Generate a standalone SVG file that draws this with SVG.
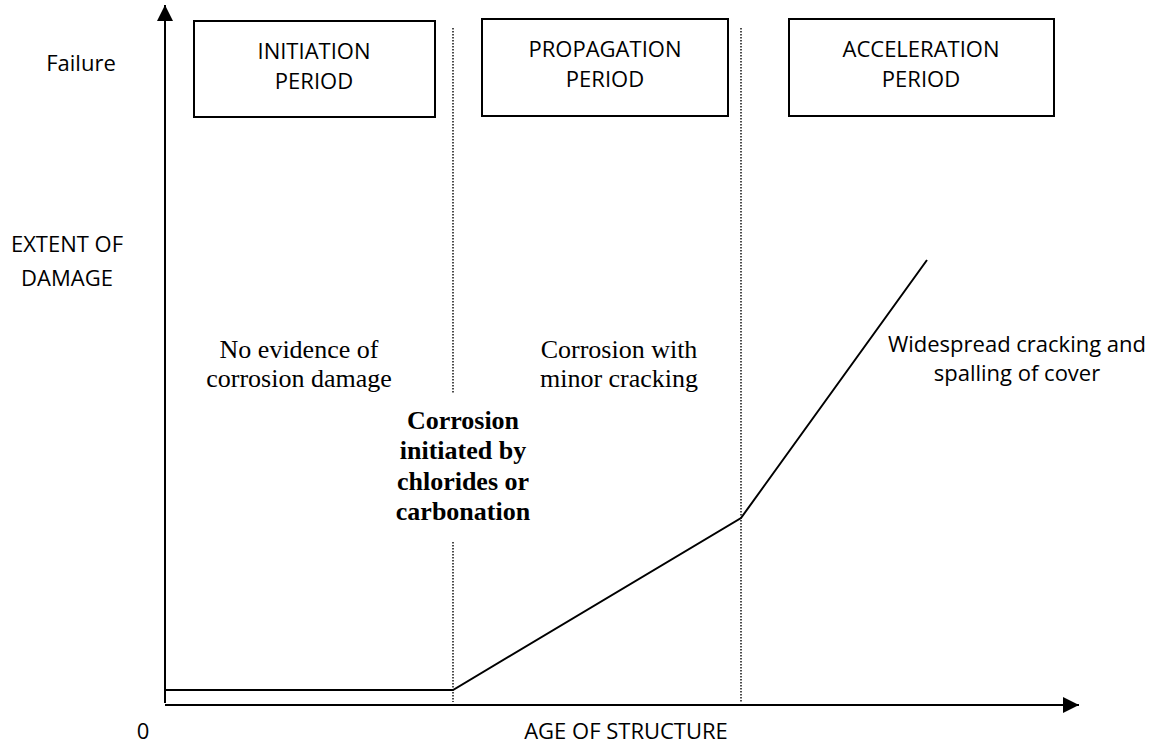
<svg xmlns="http://www.w3.org/2000/svg" width="1157" height="744" viewBox="0 0 1157 744">
<style>
.sans{font-family:"Open Sans","Liberation Sans",sans-serif;font-size:22px;fill:#000}
.serif{font-family:"Liberation Serif","Times New Roman",serif;font-size:26px;fill:#000}
.bold{font-weight:bold}
.box{fill:#fff;stroke:#000;stroke-width:2}
.axis{stroke:#000;stroke-width:2;fill:none}
.dot{stroke:#000;stroke-width:1.4;stroke-dasharray:1.4 1.6;fill:none}
.curve{stroke:#000;stroke-width:2;fill:none}
</style>
<defs>
<marker id="arr" markerWidth="9" markerHeight="9" refX="8" refY="4" orient="auto" markerUnits="strokeWidth">
<path d="M0,0 L8,4 L0,8 Z" fill="#000"/>
</marker>
</defs>
<rect width="1157" height="744" fill="#fff"/>
<g id="connectors">
<line class="axis" x1="165" y1="703" x2="165" y2="5" marker-end="url(#arr)"/>
<line class="axis" x1="165" y1="705" x2="1079" y2="705" marker-end="url(#arr)"/>
<line class="dot" x1="453" y1="28" x2="453" y2="393"/>
<line class="dot" x1="453" y1="542" x2="453" y2="702"/>
<line class="dot" x1="741" y1="28" x2="741" y2="702"/>
<polyline class="curve" points="165,690 453,690 741,518 927,260"/>
</g>
<g id="box-initiation">
<rect class="box" x="194" y="21" width="241" height="96"/>
<text class="sans" x="314" y="59" text-anchor="middle">INITIATION</text>
<text class="sans" x="314" y="89" text-anchor="middle">PERIOD</text>
</g>
<g id="box-propagation">
<rect class="box" x="482" y="19" width="246" height="97"/>
<text class="sans" x="605" y="57" text-anchor="middle">PROPAGATION</text>
<text class="sans" x="605" y="87" text-anchor="middle">PERIOD</text>
</g>
<g id="box-acceleration">
<rect class="box" x="789" y="19" width="265" height="97"/>
<text class="sans" x="921" y="57" text-anchor="middle">ACCELERATION</text>
<text class="sans" x="921" y="87" text-anchor="middle">PERIOD</text>
</g>
<g id="label-failure"><text class="sans" x="81" y="71" text-anchor="middle">Failure</text></g>
<g id="label-extent">
<text class="sans" x="67" y="252" text-anchor="middle">EXTENT OF</text>
<text class="sans" x="67" y="286" text-anchor="middle">DAMAGE</text>
</g>
<g id="label-zero"><text class="sans" x="143" y="739" text-anchor="middle">0</text></g>
<g id="label-age"><text class="sans" x="626" y="739" text-anchor="middle">AGE OF STRUCTURE</text></g>
<g id="note-initiation">
<text class="serif" x="299" y="358" text-anchor="middle">No evidence of</text>
<text class="serif" x="299" y="387" text-anchor="middle">corrosion damage</text>
</g>
<g id="note-propagation">
<text class="serif" x="619" y="358" text-anchor="middle">Corrosion with</text>
<text class="serif" x="619" y="387" text-anchor="middle">minor cracking</text>
</g>
<g id="note-start">
<text class="serif bold" x="463" y="429" text-anchor="middle">Corrosion</text>
<text class="serif bold" x="463" y="459" text-anchor="middle">initiated by</text>
<text class="serif bold" x="463" y="490" text-anchor="middle">chlorides or</text>
<text class="serif bold" x="463" y="520" text-anchor="middle">carbonation</text>
</g>
<g id="note-acceleration">
<text class="sans" x="1017" y="352" text-anchor="middle">Widespread cracking and</text>
<text class="sans" x="1017" y="381" text-anchor="middle">spalling of cover</text>
</g>
</svg>
